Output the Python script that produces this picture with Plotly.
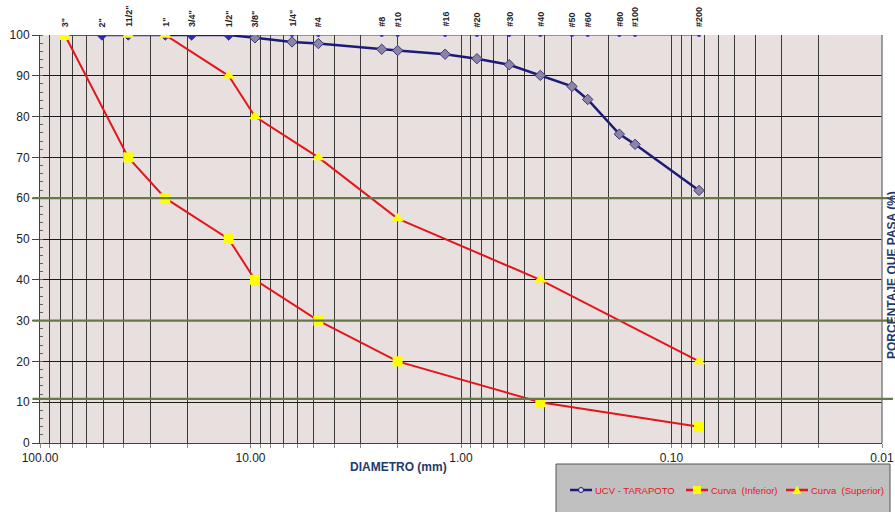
import math
import plotly.graph_objects as go

# ---- data ----
sieve_labels = ['3"', '2"', '11/2"', '1"', '3/4"', '1/2"', '3/8"', '1/4"', '#4', '#8', '#10',
                '#16', '#20', '#30', '#40', '#50', '#60', '#80', '#100', '#200']
sieve_mm = [76.2, 50.8, 38.1, 25.4, 19.05, 12.7, 9.525, 6.35, 4.76, 2.38, 2.00,
            1.19, 0.84, 0.59, 0.42, 0.297, 0.25, 0.177, 0.149, 0.074]
sieve_line_pct = [100] * len(sieve_mm)

ucv_mm = [50.8, 38.1, 25.4, 19.05, 12.7, 9.525, 6.35, 4.76, 2.38, 2.00,
          1.19, 0.84, 0.59, 0.42, 0.297, 0.25, 0.177, 0.149, 0.074]
ucv_pct = [100, 100, 100, 100, 100, 99.3, 98.3, 97.9, 96.5, 96.2,
           95.3, 94.2, 92.7, 90.1, 87.4, 84.2, 75.7, 73.2, 61.9]

inf_mm = [76.2, 38.1, 25.4, 12.7, 9.525, 4.76, 2.00, 0.42, 0.074]
inf_pct = [100, 70, 60, 50, 40, 30, 20, 10, 4]

sup_mm = [76.2, 38.1, 25.4, 12.7, 9.525, 4.76, 2.00, 0.42, 0.074]
sup_pct = [100, 100, 100, 90, 80, 70, 55, 40, 20]

ref_lines_pct = [60, 30, 10.8]

major_ticks = [100, 10, 1, 0.1, 0.01]
major_text = ["100.00", "10.00", "1.00", "0.10", "0.01"]

series_names = ["UCV - TARAPOTO", "Curva  (Inferior)", "Curva  (Superior)"]

# ---- figure ----
FONT = "Arial, Liberation Sans, sans-serif"
RED = "#e3161b"
NAVY = "#1c1c78"
YEL = "#ffff00"
fig = go.Figure()

fig.add_trace(go.Scatter(x=sieve_mm, y=sieve_line_pct, mode="lines+markers",
                         line=dict(color="#3434c8", width=1),
                         marker=dict(color="#3434c8", size=4), showlegend=False,
                         hoverinfo="skip"))

ucv_colors = ["#2a2ab8" if v >= 99.95 else "#8c84a4" for v in ucv_pct]
fig.add_trace(go.Scatter(x=ucv_mm, y=ucv_pct, mode="lines+markers", name=series_names[0],
                         line=dict(color=NAVY, width=2.5), showlegend=False,
                         marker=dict(symbol="diamond", size=8, color=ucv_colors,
                                     line=dict(color="#3a3a7a", width=1))))

fig.add_trace(go.Scatter(x=inf_mm, y=inf_pct, mode="lines+markers", name=series_names[1],
                         line=dict(color=RED, width=2), showlegend=False,
                         marker=dict(symbol="square", size=10, color=YEL)))

fig.add_trace(go.Scatter(x=sup_mm, y=sup_pct, mode="lines+markers", name=series_names[2],
                         line=dict(color=RED, width=2), showlegend=False,
                         marker=dict(symbol="triangle-up", size=11, color=YEL)))

# x tick values: majors + minor log gridlines
tickvals, ticktext = [], []
for dec in [10, 1, 0.1, 0.01]:
    for k in range(1, 10):
        tickvals.append(dec * k)
        ticktext.append("")
tickvals.append(100)
ticktext.append("")
for v, t in zip(major_ticks, major_text):
    for i, tv in enumerate(tickvals):
        if abs(tv - v) < 1e-9:
            ticktext[i] = t

fig.update_xaxes(type="log", range=[2, -2], tickvals=tickvals, ticktext=ticktext,
                 showgrid=True, gridcolor="#3a3a3a", gridwidth=1,
                 ticks="outside", ticklen=4, tickcolor="#888",
                 showline=True, linecolor="#404040", linewidth=1, mirror=False,
                 tickfont=dict(family=FONT, size=12, color="#222"), zeroline=False)

fig.update_yaxes(range=[0, 100], dtick=10, showgrid=True, gridcolor="#1a1a1a", gridwidth=1,
                 ticks="outside", ticklen=7, tickcolor="#444",
                 minor=dict(dtick=2, ticks="inside", ticklen=3, tickcolor="#666", showgrid=False),
                 showline=True, linecolor="#404040", linewidth=1,
                 tickfont=dict(family=FONT, size=12, color="#222"), zeroline=False)


def xp(px):  # page pixel -> paper x
    return (px - 40) / 842


def yp(py):  # page pixel -> paper y
    return (443 - py) / 408


shapes = []
shapes.append(dict(type="line", xref="paper", yref="paper", x0=1, x1=1, y0=0, y1=1,
                   line=dict(color="#808080", width=1.5)))
for yv in ref_lines_pct:
    shapes.append(dict(type="line", xref="paper", yref="y", x0=-0.009, x1=1.013, y0=yv, y1=yv,
                       line=dict(color="#66784a", width=2.2)))
# legend box
shapes.append(dict(type="rect", xref="paper", yref="paper",
                   x0=xp(556), x1=xp(890), y0=yp(464), y1=yp(520),
                   fillcolor="#c0c0c0", line=dict(color="#555", width=1), layer="below"))
# legend samples
LY = 490
leg_x = [570, 686, 786]
leg_colors = [NAVY, RED, RED]
for lx, c in zip(leg_x, leg_colors):
    shapes.append(dict(type="line", xref="paper", yref="paper", x0=xp(lx), x1=xp(lx + 22),
                       y0=yp(LY), y1=yp(LY), line=dict(color=c, width=2.5)))
shapes.append(dict(type="circle", xref="paper", yref="paper",
                   x0=xp(leg_x[0] + 8.5), x1=xp(leg_x[0] + 13.5), y0=yp(LY - 2.5), y1=yp(LY + 2.5),
                   fillcolor="#d8d8e8", line=dict(color=NAVY, width=1)))
shapes.append(dict(type="rect", xref="paper", yref="paper",
                   x0=xp(leg_x[1] + 7), x1=xp(leg_x[1] + 15), y0=yp(LY - 4), y1=yp(LY + 4),
                   fillcolor=YEL, line=dict(width=0)))
tx = leg_x[2] + 11
shapes.append(dict(type="path", xref="paper", yref="paper",
                   path=f"M {xp(tx - 4.5)},{yp(LY + 4)} L {xp(tx + 4.5)},{yp(LY + 4)} L {xp(tx)},{yp(LY - 4.5)} Z",
                   fillcolor=YEL, line=dict(width=0)))
fig.update_layout(shapes=shapes)

annotations = []
for lab, x in zip(sieve_labels, sieve_mm):
    annotations.append(dict(x=math.log10(x), y=100, xref="x", yref="y", text="<b>" + lab + "</b>",
                            showarrow=False, textangle=-90, yanchor="bottom", xanchor="center",
                            yshift=6, font=dict(family=FONT, size=9, color="#222")))
for lx, name in zip(leg_x, series_names):
    annotations.append(dict(x=xp(lx + 23), y=yp(LY), xref="paper", yref="paper",
                            text=name.replace("  ", "&nbsp; "), showarrow=False, xanchor="left",
                            yanchor="middle", font=dict(family=FONT, size=9.5, color=RED)))
annotations.append(dict(x=xp(398), y=yp(476), xref="paper", yref="paper",
                        text="<b>DIAMETRO (mm)</b>", showarrow=False, xanchor="center",
                        font=dict(family=FONT, size=12, color="#1f3a6a")))
annotations.append(dict(x=xp(892), y=yp(275), xref="paper", yref="paper",
                        xanchor="center", yanchor="middle",
                        text="<b>PORCENTAJE QUE PASA (%)</b>", showarrow=False, textangle=-90,
                        font=dict(family=FONT, size=12, color="#1f3a6a")))
fig.update_layout(annotations=annotations)

fig.update_layout(
    width=895, height=512,
    margin=dict(l=40, r=13, t=35, b=69, autoexpand=False),
    paper_bgcolor="white", plot_bgcolor="#e8dfdf",
    showlegend=False,
    font=dict(family=FONT),
)

# remove the default 8px page margin so the figure fills the window exactly
fig.write_html("out.html", config={"displayModeBar": False},
               post_script="document.body.style.margin='0';document.body.style.overflow='hidden';")
